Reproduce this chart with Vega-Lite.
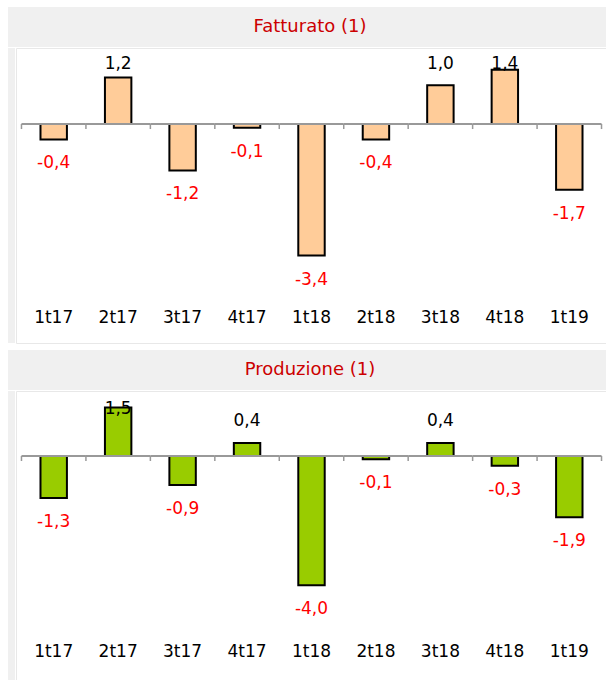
{
  "$schema": "https://vega.github.io/schema/vega-lite/v6.json",
  "padding": {"left": 8, "top": 7, "right": 0, "bottom": 0},
  "background": "white",
  "config": {
    "font": "DejaVu Sans",
    "locale": {"number": {"decimal": ",", "thousands": ".", "grouping": [3], "currency": ["", " €"], "minus": "-"}},
    "axis": {"minExtent": 0}
  },
  "datasets": {
    "fat": [
      {"q": "1t17", "v": -0.4}, {"q": "2t17", "v": 1.2}, {"q": "3t17", "v": -1.2},
      {"q": "4t17", "v": -0.1}, {"q": "1t18", "v": -3.4}, {"q": "2t18", "v": -0.4},
      {"q": "3t18", "v": 1.0}, {"q": "4t18", "v": 1.4}, {"q": "1t19", "v": -1.7}
    ],
    "prod": [
      {"q": "1t17", "v": -1.3}, {"q": "2t17", "v": 1.5}, {"q": "3t17", "v": -0.9},
      {"q": "4t17", "v": 0.4}, {"q": "1t18", "v": -4.0}, {"q": "2t18", "v": -0.1},
      {"q": "3t18", "v": 0.4}, {"q": "4t18", "v": -0.3}, {"q": "1t19", "v": -1.9}
    ],
    "blank": [{"t": ""}]
  },
  "spacing": 6,
  "vconcat": [
    {
      "spacing": 0,
      "vconcat": [
        {
          "width": 598, "height": 40,
          "view": {"fill": "#f0f0f0", "stroke": null},
          "data": {"values": [{"t": "Fatturato (1)"}]},
          "mark": {"type": "text", "font": "DejaVu Sans", "fontSize": 18, "fill": "#CC0000", "baseline": "middle", "dx": 3},
          "encoding": {"text": {"field": "t"}}
        },
        {
          "spacing": 0,
          "hconcat": [
            {
              "width": 7, "height": 295,
              "view": {"fill": "#f0f0f0", "stroke": null},
              "data": {"name": "blank"},
              "mark": {"type": "text"},
              "encoding": {"text": {"field": "t"}}
            },
            {
              "width": 591, "height": 295,
              "view": {"fill": "white", "stroke": "#e8e8e8", "strokeWidth": 1},
              "data": {"name": "fat"},
              "encoding": {
                "x": {"field": "q", "type": "nominal", "sort": null,
                  "scale": {"domain": ["1t17","2t17","3t17","4t17","1t18","2t18","3t18","4t18","1t19"], "paddingInner": 0, "paddingOuter": 0.085},
                  "axis": {"orient": "bottom", "offset": -26, "domain": false, "ticks": false, "grid": false, "labelPadding": 0, "labelBaseline": "middle", "labelFont": "DejaVu Sans", "labelFontSize": 17, "labelColor": "black", "labelAngle": 0, "title": null, "minExtent": 0}}
              },
              "layer": [
                {
                  "mark": {"type": "bar", "width": {"band": 0.41}, "fill": "#FFCC99", "stroke": "black", "strokeWidth": 2},
                  "encoding": {
                    "y": {"field": "v", "type": "quantitative", "title": null,
                      "scale": {"domain": [-5.659, 1.964], "nice": false},
                      "axis": null}
                  }
                },
                {
                  "mark": {"type": "bar", "width": {"band": 1}, "fill": "#999999"},
                  "encoding": {"y": {"datum": 0.026}, "y2": {"datum": -0.026}}
                },
                {
                  "mark": {"type": "rule", "stroke": "#999999", "strokeWidth": 1.5},
                  "encoding": {
                    "x": {"field": "q", "type": "nominal", "bandPosition": 0},
                    "y": {"datum": 0}, "y2": {"datum": -0.13}
                  }
                },
                {
                  "transform": [{"filter": "datum.q == '1t19'"}],
                  "mark": {"type": "rule", "stroke": "#999999", "strokeWidth": 1.5},
                  "encoding": {
                    "x": {"field": "q", "type": "nominal", "bandPosition": 1},
                    "y": {"datum": 0}, "y2": {"datum": -0.13}
                  }
                },
                {
                  "transform": [{"filter": "datum.v >= 0"}, {"calculate": "min(datum.v, 0.98)", "as": "ly"}],
                  "mark": {"type": "text", "font": "DejaVu Sans", "fontSize": 17, "fill": "black", "baseline": "middle", "dy": -22},
                  "encoding": {
                    "y": {"field": "ly", "type": "quantitative", "title": null},
                    "text": {"field": "v", "type": "quantitative", "format": ".1f"}
                  }
                },
                {
                  "transform": [{"filter": "datum.v < 0"}],
                  "mark": {"type": "text", "font": "DejaVu Sans", "fontSize": 17, "fill": "#FF0000", "baseline": "middle", "dy": 24},
                  "encoding": {
                    "y": {"field": "v", "type": "quantitative", "title": null},
                    "text": {"field": "v", "type": "quantitative", "format": ".1f"}
                  }
                }
              ]
            }
          ]
        }
      ]
    },
    {
      "spacing": 0,
      "vconcat": [
        {
          "width": 598, "height": 40,
          "view": {"fill": "#f0f0f0", "stroke": null},
          "data": {"values": [{"t": "Produzione (1)"}]},
          "mark": {"type": "text", "font": "DejaVu Sans", "fontSize": 18, "fill": "#CC0000", "baseline": "middle", "dx": 3},
          "encoding": {"text": {"field": "t"}}
        },
        {
          "spacing": 0,
          "hconcat": [
            {
              "width": 7, "height": 290,
              "view": {"fill": "#f0f0f0", "stroke": null},
              "data": {"name": "blank"},
              "mark": {"type": "text"},
              "encoding": {"text": {"field": "t"}}
            },
            {
              "width": 591, "height": 290,
              "view": {"fill": "white", "stroke": "#e8e8e8", "strokeWidth": 1},
              "data": {"name": "prod"},
              "encoding": {
                "x": {"field": "q", "type": "nominal", "sort": null,
                  "scale": {"domain": ["1t17","2t17","3t17","4t17","1t18","2t18","3t18","4t18","1t19"], "paddingInner": 0, "paddingOuter": 0.085},
                  "axis": {"orient": "bottom", "offset": -30, "domain": false, "ticks": false, "grid": false, "labelPadding": 0, "labelBaseline": "middle", "labelFont": "DejaVu Sans", "labelFontSize": 17, "labelColor": "black", "labelAngle": 0, "title": null, "minExtent": 0}}
              },
              "layer": [
                {
                  "mark": {"type": "bar", "width": {"band": 0.41}, "fill": "#99CC00", "stroke": "black", "strokeWidth": 2},
                  "encoding": {
                    "y": {"field": "v", "type": "quantitative", "title": null,
                      "scale": {"domain": [-6.966, 2.012], "nice": false},
                      "axis": null}
                  }
                },
                {
                  "mark": {"type": "bar", "width": {"band": 1}, "fill": "#999999"},
                  "encoding": {"y": {"datum": 0.031}, "y2": {"datum": -0.031}}
                },
                {
                  "mark": {"type": "rule", "stroke": "#999999", "strokeWidth": 1.5},
                  "encoding": {
                    "x": {"field": "q", "type": "nominal", "bandPosition": 0},
                    "y": {"datum": 0}, "y2": {"datum": -0.155}
                  }
                },
                {
                  "transform": [{"filter": "datum.q == '1t19'"}],
                  "mark": {"type": "rule", "stroke": "#999999", "strokeWidth": 1.5},
                  "encoding": {
                    "x": {"field": "q", "type": "nominal", "bandPosition": 1},
                    "y": {"datum": 0}, "y2": {"datum": -0.155}
                  }
                },
                {
                  "transform": [{"filter": "datum.v >= 0"}, {"calculate": "min(datum.v, 0.774)", "as": "ly"}],
                  "mark": {"type": "text", "font": "DejaVu Sans", "fontSize": 17, "fill": "black", "baseline": "middle", "dy": -22},
                  "encoding": {
                    "y": {"field": "ly", "type": "quantitative", "title": null},
                    "text": {"field": "v", "type": "quantitative", "format": ".1f"}
                  }
                },
                {
                  "transform": [{"filter": "datum.v < 0"}],
                  "mark": {"type": "text", "font": "DejaVu Sans", "fontSize": 17, "fill": "#FF0000", "baseline": "middle", "dy": 24},
                  "encoding": {
                    "y": {"field": "v", "type": "quantitative", "title": null},
                    "text": {"field": "v", "type": "quantitative", "format": ".1f"}
                  }
                }
              ]
            }
          ]
        }
      ]
    }
  ]
}
